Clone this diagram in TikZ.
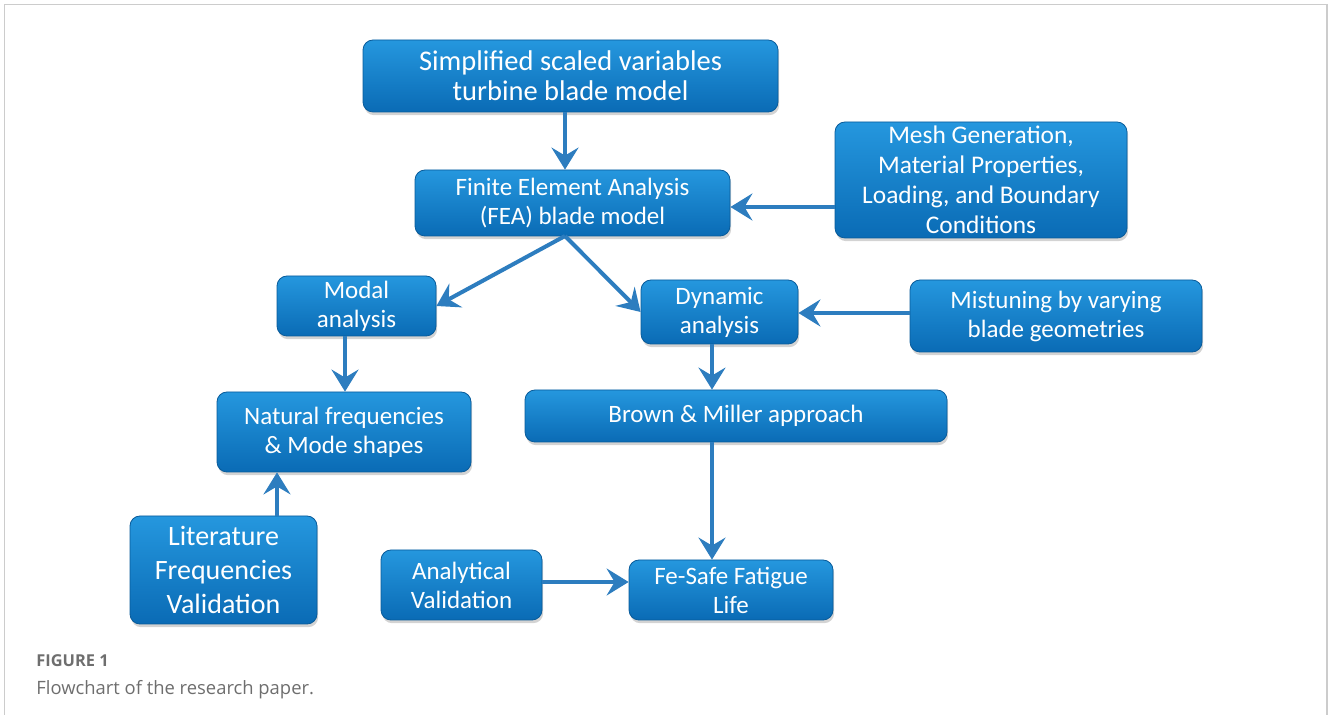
\documentclass[tikz,border=0pt]{standalone}
\usepackage{fontspec}
\setmainfont{Carlito}
\newfontfamily\capfont{Open Sans}
\usetikzlibrary{shadows,arrows.meta}
\definecolor{boxtop}{HTML}{2597DE}
\definecolor{boxbot}{HTML}{0A6BB5}
\definecolor{arrowblue}{HTML}{2D7DBF}
\definecolor{framegray}{HTML}{CCCCCC}
\definecolor{capgray}{HTML}{6E6E6E}
\begin{document}
\begin{tikzpicture}[x=0.5pt,y=-0.5pt,
    blk/.style={rounded corners=5pt, top color=boxtop, bottom color=boxbot,
      draw=boxbot!85!black, line width=0.4pt, text=white, align=center, inner sep=0pt,
      font=\fontsize{12.5}{14.5}\selectfont,
      drop shadow={shadow xshift=0.6pt,shadow yshift=-1.6pt,opacity=0.35}},
    flow/.style={draw=arrowblue, line width=2pt,
      -{Stealth[length=11pt,width=13.5pt,inset=4pt]}}]
  \useasboundingbox (0,0) rectangle (1328,715);
  \draw[framegray, line width=0.6pt] (4.5,715) -- (4.5,4.5) -- (1327,4.5) -- (1327,715);

  \node[blk, minimum width=207.5pt, minimum height=36pt, font=\fontsize{14.25}{15}\selectfont] (top) at (570.5,76) {Simplified scaled variables\\turbine blade model};
  \node[blk, minimum width=157.5pt, minimum height=33pt] (fea) at (572.5,203) {Finite Element Analysis\\(FEA) blade model};
  \node[blk, minimum width=146pt, minimum height=58pt, font=\fontsize{12.7}{15}\selectfont] (mesh) at (981,180) {Mesh Generation,\\Material Properties,\\Loading, and Boundary\\Conditions};
  \node[blk, minimum width=79.5pt, minimum height=30pt] (modal) at (356.5,306) {Modal\\analysis};
  \node[blk, minimum width=78.5pt, minimum height=32pt] (dyn) at (719.5,312) {Dynamic\\analysis};
  \node[blk, minimum width=146pt, minimum height=36pt] (mist) at (1056,316) {Mistuning by varying\\blade geometries};
  \node[blk, minimum width=127pt, minimum height=40pt] (nat) at (344,432) {Natural frequencies\\\& Mode shapes};
  \node[blk, minimum width=211pt, minimum height=26pt] (brown) at (736,416) {Brown \& Miller approach};
  \node[blk, minimum width=93.5pt, minimum height=54pt, font=\fontsize{14}{17}\selectfont] (lit) at (223.5,570) {Literature\\Frequencies\\Validation};
  \node[blk, minimum width=80.5pt, minimum height=35pt] (anal) at (461.5,585) {Analytical\\Validation};
  \node[blk, minimum width=102pt, minimum height=30pt] (fe) at (731,590) {Fe-Safe Fatigue\\Life};

  \coordinate (split) at (565,236);
  \draw[flow] (top.south -| split) -- (fea.north -| split);
  \draw[flow] (mesh.west |- 0,207) -- (fea.east |- 0,207);
  \draw[flow] (split) -- (modal.east);
  \draw[flow] (split) -- (dyn.west);
  \draw[flow] (mist.west |- 0,313) -- (dyn.east |- 0,313);
  \draw[flow] (modal.south -| 345,0) -- (nat.north -| 345,0);
  \draw[flow] (dyn.south -| 712,0) -- (brown.north -| 712,0);
  \draw[flow] (brown.south -| 712,0) -- (fe.north -| 712,0);
  \draw[flow] (lit.north -| 277,0) -- (nat.south -| 277,0);
  \draw[flow] (anal.east |- 0,582) -- (fe.west |- 0,582);

  \node[anchor=base west, inner sep=0pt, text=capgray, font=\capfont\fontsize{8.2}{9}\selectfont\bfseries] (figno) at (36,667) {FIGURE 1};
  \node[anchor=base west, inner sep=0pt, text=capgray, font=\capfont\fontsize{9.2}{10}\selectfont] (caption) at (36,694) {Flowchart of the research paper.};
\end{tikzpicture}
\end{document}
